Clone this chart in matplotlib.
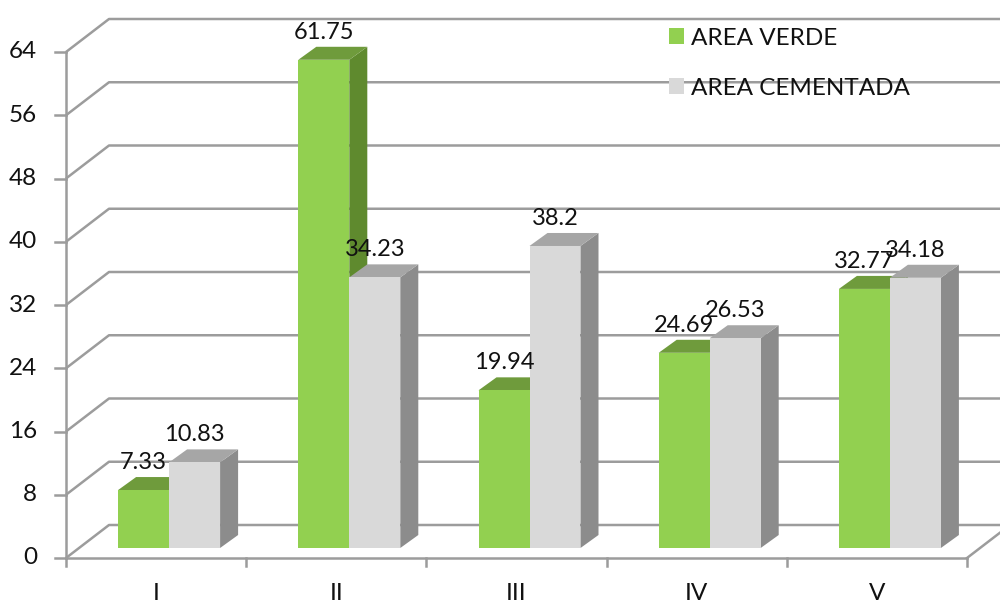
import matplotlib
matplotlib.use('Agg')
import matplotlib.pyplot as plt
from matplotlib.patches import Polygon, Rectangle, Patch

categories = ['I', 'II', 'III', 'IV', 'V']
area_verde = [7.33, 61.75, 19.94, 24.69, 32.77]
area_cementada = [10.83, 34.23, 38.2, 26.53, 34.18]
series_names = ['AREA VERDE', 'AREA CEMENTADA']
y_ticks = [0, 8, 16, 24, 32, 40, 48, 56, 64]

plt.rcParams['font.family'] = ['Lato', 'DejaVu Sans']
TXT = '#111111'
GRID = '#9C9C9C'
FS = 17.5

fig = plt.figure(figsize=(10, 6.04), dpi=100)
ax = fig.add_axes([66 / 1000, 46 / 604, 901 / 1000, 506 / 604])
ax.set_xlim(-0.5, len(categories) - 0.5)
ax.set_ylim(0, 64)
ax.axis('off')


def px(dxp, dyp):
    """convert a pixel offset into data offset"""
    x0, y0 = ax.transData.transform((0, 0))
    x1, y1 = ax.transData.inverted().transform((x0 + dxp, y0 + dyp))
    return x1, y1


bdx, bdy = px(43, 33)   # back wall depth
fdx, fdy = px(13, 10)   # bar front face offset
ddx, ddy = px(18, 13)   # bar depth
xl, xr = -0.5, len(categories) - 0.5

# back wall gridlines + left wall diagonals
for v in y_ticks:
    ax.plot([xl, xl + bdx, xr + bdx + 1], [v, v + bdy, v + bdy], color=GRID,
            lw=1.8, clip_on=False, zorder=1, solid_capstyle='butt')

# front axes
tdx, _ = px(-11, 0)
ldx, _ = px(-29, 0)
ax.plot([xl, xl], [0, 64], color=GRID, lw=1.8, clip_on=False, zorder=2)
for v in y_ticks:
    ax.plot([xl + tdx, xl], [v, v], color=GRID, lw=1.8, clip_on=False, zorder=2)
    ax.text(xl + ldx, v, str(v), ha='right', va='center', fontsize=FS, color=TXT)

ax.plot([xl, xr], [0, 0], color=GRID, lw=1.8, clip_on=False, zorder=2)
ax.plot([xr, xr + bdx], [0, bdy], color=GRID, lw=1.8, clip_on=False, zorder=2)
_, tdy = px(0, -8)
_, cdy = px(0, -35)
for k in range(len(categories) + 1):
    ax.plot([xl + k, xl + k], [0, tdy], color=GRID, lw=1.8, clip_on=False, zorder=2)
for i, c in enumerate(categories):
    ax.text(i, cdy, c, ha='center', va='center', fontsize=FS, color=TXT)

# bars
w = 0.283
styles = [('#92D050', '#6F9B3C', '#5F8A2E'), ('#D9D9D9', '#A6A6A6', '#8C8C8C')]
_, lab = px(0, 8)
z = 3
for i in range(len(categories)):
    for s, vals in enumerate([area_verde, area_cementada]):
        v = vals[i]
        front, top, side = styles[s]
        x0 = i - w + s * w + fdx
        x1 = x0 + w
        yb, yt = fdy, fdy + v
        ax.add_patch(Polygon([(x1, yb), (x1 + ddx, yb + ddy), (x1 + ddx, yt + ddy), (x1, yt)],
                             closed=True, facecolor=side, edgecolor='none', clip_on=False, zorder=z))
        ax.add_patch(Polygon([(x0, yt), (x1, yt), (x1 + ddx, yt + ddy), (x0 + ddx, yt + ddy)],
                             closed=True, facecolor=top, edgecolor='none', clip_on=False, zorder=z))
        ax.add_patch(Rectangle((x0, yb), w, v, facecolor=front, edgecolor='none',
                               clip_on=False, zorder=z))
        z += 0.01
        ax.text((x0 + x1) / 2, yt + ddy + lab, f'{v:g}', ha='center', va='baseline',
                fontsize=17, color=TXT, zorder=10)

handles = [Patch(facecolor=styles[0][0]), Patch(facecolor=styles[1][0])]
fig.legend(handles, series_names, loc='upper left', bbox_to_anchor=(0.647, 0.99),
           frameon=False, fontsize=FS, handlelength=0.62, handleheight=0.62,
           handletextpad=0.3, labelspacing=1.18, labelcolor=TXT)

fig.savefig('out.png', dpi=100)
